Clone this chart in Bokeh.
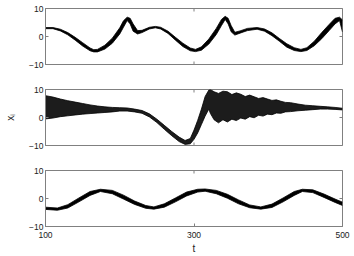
import math
from bokeh.plotting import figure
from bokeh.layouts import column
from bokeh.models import Range1d, FixedTicker, LinearAxis
from bokeh.embed import file_html
from bokeh.resources import INLINE

# ---------------- data ----------------
# panel 1: envelope of the bundle of trajectories
t1 = [100, 110, 120, 130, 140, 150, 160, 165, 170, 180, 190, 200, 205, 210, 214, 218, 224,
      230, 240, 248, 255, 265, 275, 285, 295, 302, 310, 320, 330, 337, 342, 346, 350, 355,
      362, 372, 385, 395, 405, 415, 425, 435, 444, 452, 462, 472, 482, 490, 496, 500]
lo1 = [2.8, 2.8, 2.0, 0.6, -1.3, -3.4, -5.1, -5.5, -5.5, -4.5, -2.4, 0.9, 3.3, 5.7, 4.5, 1.9, 0.9,
       1.4, 2.7, 3.1, 2.7, 1.1, -1.3, -3.6, -5.1, -5.4, -4.9, -2.7, 0.7, 3.9, 6.1, 4.5, 1.7, 0.5,
       1.2, 2.1, 2.6, 1.9, 0.3, -1.7, -3.8, -5.0, -5.4, -5.0, -3.3, -0.8, 2.1, 4.5, 5.7, 1.6]
hi1 = [3.2, 3.2, 2.6, 1.4, -0.3, -2.2, -4.1, -4.7, -4.6, -3.1, -0.6, 3.1, 5.6, 6.9, 6.5, 4.5, 2.1,
       2.2, 3.3, 3.6, 3.3, 1.9, -0.3, -2.4, -4.1, -4.6, -3.7, -0.9, 2.9, 6.1, 7.2, 6.5, 3.9, 1.5,
       2.0, 2.9, 3.2, 2.7, 1.3, -0.7, -2.6, -4.0, -4.6, -4.0, -1.7, 1.4, 4.3, 6.5, 6.9, 5.9]

# panel 2
t2 = [100, 110, 120, 130, 140, 150, 160, 170, 180, 190, 200, 210, 220, 230, 240, 250, 260,
      270, 280, 288, 295, 300, 305, 310, 315, 320, 322, 327, 333, 339, 345, 351, 357, 363,
      369, 375, 381, 387, 393, 399, 405, 411, 417, 423, 430, 440, 450, 460, 470, 480, 490, 500]
lo2 = [-0.5, -0.2, 0.3, 0.6, 0.9, 1.2, 1.4, 1.6, 1.8, 2.0, 2.3, 2.3, 2.0, 1.5, 0.2, -1.8, -4.2,
       -6.5, -8.6, -9.6, -9.4, -7.8, -5.5, -2.5, 0.5, 3.0, 1.5, -0.8, -1.9, -0.8, -1.6, -0.6, -1.1, -0.2,
       -0.6, 0.3, -0.1, 0.8, 0.5, 1.2, 1.0, 1.6, 1.5, 2.0, 2.1, 2.4, 2.6, 2.8, 3.0, 3.0, 2.9, 2.7]
hi2 = [7.8, 7.3, 6.6, 6.0, 5.5, 5.0, 4.5, 4.1, 3.8, 3.6, 3.5, 3.4, 3.0, 2.5, 1.3, -0.6, -2.8,
       -5.0, -7.0, -8.2, -7.5, -4.5, -1.0, 3.0, 7.5, 9.8, 10.0, 9.2, 8.6, 9.4, 9.2, 8.2, 8.8, 8.3,
       7.5, 8.0, 7.4, 6.8, 7.1, 6.6, 6.1, 6.3, 5.8, 5.4, 5.3, 4.8, 4.4, 4.2, 4.0, 3.8, 3.6, 3.3]

# panel 3
t3 = [100, 116, 130, 145, 160, 174, 190, 205, 220, 235, 246, 260, 275, 290, 305, 315, 330,
      345, 360, 375, 390, 405, 420, 435, 446, 460, 475, 490, 500]
lo3 = [-3.9, -4.2, -3.4, -1.2, 1.1, 2.5, 1.7, -0.2, -2.1, -3.5, -3.8, -3.1, -1.2, 0.9, 2.3, 2.6,
       1.7, 0.1, -1.9, -3.3, -3.8, -3.2, -1.2, 1.1, 2.5, 2.1, 0.4, -1.4, -2.5]
hi3 = [-3.1, -3.4, -2.2, 0.2, 2.5, 3.3, 2.9, 1.2, -0.9, -2.5, -3.0, -1.9, 0.2, 2.3, 3.3, 3.4,
       2.9, 1.5, -0.5, -2.3, -3.0, -2.0, 0.2, 2.5, 3.3, 3.1, 1.6, -0.2, -1.3]

x_ticks = [100, 300, 500]
y_ticks = [-10, 0, 10]
y_tick_labels = {-10: "\u221210", 0: "0", 10: "10"}
x_tick_labels = {100: "100", 300: "300", 500: "500"}

FONT = "Liberation Sans"
FRAME = "#808080"
TXT = "#222222"
X0, X1, Y0, Y1 = 100, 500, -10, 10


def styled_axis(axis, ticks, labels):
    axis.ticker = FixedTicker(ticks=ticks)
    axis.axis_line_color = FRAME
    axis.major_tick_line_color = FRAME
    axis.major_tick_in = 3
    axis.major_tick_out = 0
    axis.minor_tick_line_color = None
    axis.major_label_overrides = labels
    axis.major_label_text_font = FONT
    axis.major_label_text_font_size = "8.5px"
    axis.major_label_text_color = TXT
    axis.major_label_standoff = 2


def panel(t, lo, hi, top, fh, bottom, last, ylabel=None, fill="black"):
    p = figure(frame_width=297, frame_height=fh, output_backend="svg", toolbar_location=None,
               x_range=Range1d(X0, X1), y_range=Range1d(Y0, Y1),
               min_border_left=45, min_border_right=12, min_border_top=top,
               min_border_bottom=bottom, x_axis_location=None, y_axis_location=None)
    p.outline_line_color = FRAME
    p.background_fill_color = "white"
    p.border_fill_color = "white"
    p.grid.visible = False

    left = LinearAxis()
    styled_axis(left, y_ticks, y_tick_labels)
    if ylabel:
        left.axis_label = ylabel
        left.axis_label_text_font = FONT
        left.axis_label_text_font_size = "10px"
        left.axis_label_text_font_style = "normal"
        left.axis_label_text_color = TXT
        left.axis_label_standoff = 10
    p.add_layout(left, "left")

    if last:
        below = LinearAxis()
        styled_axis(below, x_ticks, x_tick_labels)
        below.major_label_standoff = 5
        below.axis_label = "t"
        below.axis_label_text_font = FONT
        below.axis_label_text_font_size = "10px"
        below.axis_label_text_font_style = "normal"
        below.axis_label_text_color = TXT
        below.axis_label_standoff = 2
        p.add_layout(below, "below")
    else:
        # inward x ticks on the bottom edge (clipped to the frame)
        p.scatter(x=x_ticks, y=[Y0] * len(x_ticks), marker="dash", size=6,
                  angle=math.pi / 2, line_color=FRAME, line_width=1)
    # inward ticks on the top and right edges (MATLAB box style)
    p.scatter(x=x_ticks, y=[Y1] * len(x_ticks), marker="dash", size=6,
              angle=math.pi / 2, line_color=FRAME, line_width=1)
    p.scatter(x=[X1] * len(y_ticks), y=y_ticks, marker="dash", size=6,
              line_color=FRAME, line_width=1)

    p.varea(x=t, y1=lo, y2=hi, fill_color=fill)
    p.line(t, lo, line_color="black", line_width=0.8)
    p.line(t, hi, line_color="black", line_width=0.8)
    return p


p1 = panel(t1, lo1, hi1, 8, 56, 12, False)
p2 = panel(t2, lo2, hi2, 13, 56, 12, False, ylabel="x\u1d62", fill="#1c1c1c")
p3 = panel(t3, lo3, hi3, 13, 56, 30, True)

layout = column(p1, p2, p3, spacing=0)
open("out.html", "w").write(file_html(layout, INLINE))
